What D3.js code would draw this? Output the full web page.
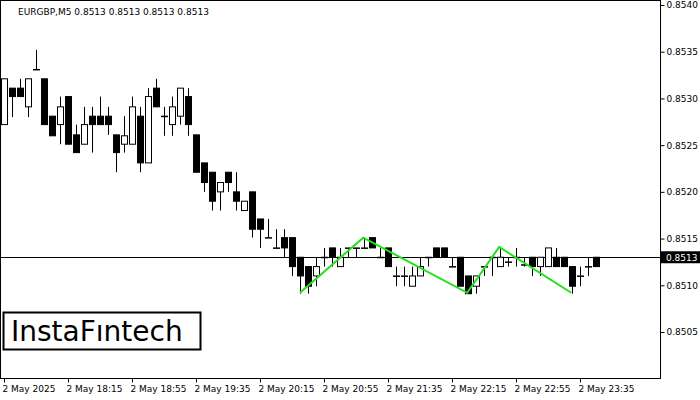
<!DOCTYPE html>
<html><head><meta charset="utf-8">
<script src="https://cdn.jsdelivr.net/npm/d3@7"></script>
<style>body{margin:0;background:#fff}text{font-family:"DejaVu Sans",sans-serif}</style>
</head><body><svg id="chart" width="700" height="400"></svg>
<script>
// candles, 5 min each from 17:35
var opens  = [.85272,.85311,.85311,.85291,.85331,.85321,.85281,.85272,.85302,.85261,.85251,.85281,.85281,.85281,.85261,.85251,.85251,.85281,.85231,.85311,.85281,.85272,.85281,.85302,.85261,.85231,.85221,.85200,.85221,.85200,.85180,.85200,.85171,.85151,.85140,.85151,.85151,.85130,.85120,.85110,.85130,.85140,.85120,.85140,.85140,.85140,.85151,.85130,.85140,.85110,.85110,.85099,.85110,.85130,.85140,.85140,.85120,.85130,.85110,.85099,.85120,.85130,.85120,.85125,.85130,.85122,.85130,.85120,.85120,.85130,.85130,.85120,.85110,.85120,.85130];
var highs  = [.85321,.85311,.85321,.85321,.85352,.85321,.85281,.85302,.85302,.85272,.85291,.85291,.85302,.85291,.85261,.85281,.85302,.85291,.85311,.85321,.85291,.85302,.85311,.85311,.85261,.85231,.85221,.85210,.85221,.85221,.85190,.85200,.85171,.85171,.85160,.85160,.85151,.85130,.85120,.85130,.85140,.85140,.85140,.85140,.85140,.85151,.85151,.85140,.85140,.85120,.85120,.85120,.85130,.85130,.85140,.85140,.85130,.85130,.85110,.85110,.85120,.85130,.85140,.85130,.85140,.85130,.85130,.85130,.85140,.85140,.85130,.85120,.85120,.85130,.85130];
var lows   = [.85272,.85280,.85302,.85280,.85331,.85272,.85260,.85251,.85251,.85242,.85251,.85242,.85272,.85261,.85221,.85242,.85251,.85221,.85231,.85291,.85260,.85260,.85272,.85260,.85221,.85200,.85180,.85180,.85200,.85180,.85180,.85151,.85140,.85151,.85140,.85130,.85110,.85091,.85091,.85099,.85120,.85120,.85120,.85130,.85130,.85140,.85140,.85130,.85120,.85099,.85099,.85099,.85110,.85120,.85130,.85130,.85120,.85099,.85091,.85091,.85110,.85110,.85120,.85120,.85120,.85120,.85110,.85110,.85120,.85120,.85120,.85091,.85099,.85110,.85120];
var closes = [.85321,.85302,.85302,.85321,.85331,.85272,.85260,.85291,.85251,.85242,.85272,.85272,.85272,.85272,.85242,.85260,.85291,.85231,.85302,.85291,.85281,.85291,.85311,.85272,.85221,.85210,.85190,.85210,.85210,.85190,.85190,.85160,.85160,.85151,.85140,.85140,.85120,.85110,.85099,.85120,.85130,.85130,.85130,.85140,.85140,.85140,.85140,.85130,.85120,.85110,.85110,.85110,.85120,.85130,.85130,.85130,.85120,.85099,.85091,.85110,.85120,.85130,.85130,.85125,.85130,.85122,.85120,.85130,.85140,.85120,.85120,.85099,.85110,.85120,.85120];
var priceTicks = [0.8505, 0.8510, 0.8515, 0.8520, 0.8525, 0.8530, 0.8535, 0.8540];
var timeLabels = ["2 May 2025","2 May 18:15","2 May 18:55","2 May 19:35","2 May 20:15","2 May 20:55","2 May 21:35","2 May 22:15","2 May 22:55","2 May 23:35"];
// triple bottom pattern: candle index, price
var patternIdx   = [37, 44.9, 57.9, 61.9, 70.9];
var patternPrice = [0.85092, 0.85151, 0.85092, 0.85141, 0.85092];
var lastPrice = 0.8513;

var svg = d3.select('#chart'),
    plotW = 660, plotH = 378;

var x = d3.scaleLinear().domain([0, 1]).range([4, 12]);
var y = d3.scaleLinear().domain([0.8505, 0.8540]).range([332, 5]);

svg.append('rect').attr('x', 0.5).attr('y', 0.5).attr('width', plotW).attr('height', plotH)
    .attr('fill', 'none').attr('stroke', '#000');

// right price axis
var yAxis = svg.append('g').attr('transform', 'translate(' + (plotW + 0.5) + ',0)')
    .call(d3.axisRight(y).tickValues(priceTicks).tickFormat(d3.format('.4f')).tickSize(4));
yAxis.select('.domain').remove();
yAxis.selectAll('text').attr('font-size', 9).attr('x', 6);

// time axis
var xAxis = svg.append('g').attr('transform', 'translate(0,' + (plotH + 0.5) + ')')
    .call(d3.axisBottom(x).tickValues(d3.range(0, 80, 8)).tickFormat(function(d, i) { return timeLabels[i]; }).tickSize(4));
xAxis.select('.domain').remove();
xAxis.selectAll('text').attr('font-size', 9).attr('text-anchor', 'start').attr('x', -2);

// current price line
svg.append('line').attr('x1', 0).attr('x2', plotW).attr('y1', Math.round(y(lastPrice)) + 0.5).attr('y2', Math.round(y(lastPrice)) + 0.5)
    .attr('stroke', '#000');

// candles
var idx = d3.range(opens.length);
var g = svg.append('g');
g.selectAll('line.wick').data(idx).enter().append('line')
    .attr('x1', function(i) { return Math.round(x(i)) + 0.5; })
    .attr('x2', function(i) { return Math.round(x(i)) + 0.5; })
    .attr('y1', function(i) { return y(highs[i]); })
    .attr('y2', function(i) { return y(lows[i]); })
    .attr('stroke', '#000');
g.selectAll('rect.body').data(idx).enter().append('rect')
    .attr('x', function(i) { return Math.round(x(i)) - 2.5; })
    .attr('y', function(i) { return y(Math.max(opens[i], closes[i])); })
    .attr('width', 6)
    .attr('height', function(i) { return Math.max(0.5, Math.abs(y(opens[i]) - y(closes[i]))); })
    .attr('fill', function(i) { return closes[i] >= opens[i] ? '#fff' : '#000'; })
    .attr('stroke', '#000');

// pattern
svg.append('path').datum(d3.range(patternIdx.length))
    .attr('d', d3.line().x(function(i) { return x(patternIdx[i]); }).y(function(i) { return y(patternPrice[i]); }))
    .attr('fill', 'none').attr('stroke', '#22e01c').attr('stroke-width', 2);

// price label
var ly = y(lastPrice);
svg.append('rect').attr('x', plotW + 1).attr('y', ly - 6).attr('width', 39).attr('height', 12).attr('fill', '#000');
svg.append('text').attr('x', plotW + 6).attr('y', ly + 3.5).attr('font-size', 9).attr('fill', '#fff').text('0.8513');

// title
svg.append('text').attr('x', 18).attr('y', 15).attr('font-size', 9).text('EURGBP,M5  0.8513 0.8513 0.8513 0.8513');

// logo
svg.append('rect').attr('x', 3.5).attr('y', 312.5).attr('width', 197).attr('height', 37).attr('fill', '#fff').attr('stroke', '#000').attr('stroke-width', 2);
svg.append('text').attr('x', 11).attr('y', 341).attr('font-size', 28).attr('font-weight', 500).attr('font-family', 'Roboto, sans-serif').text('InstaFıntech');
</script></body></html>
